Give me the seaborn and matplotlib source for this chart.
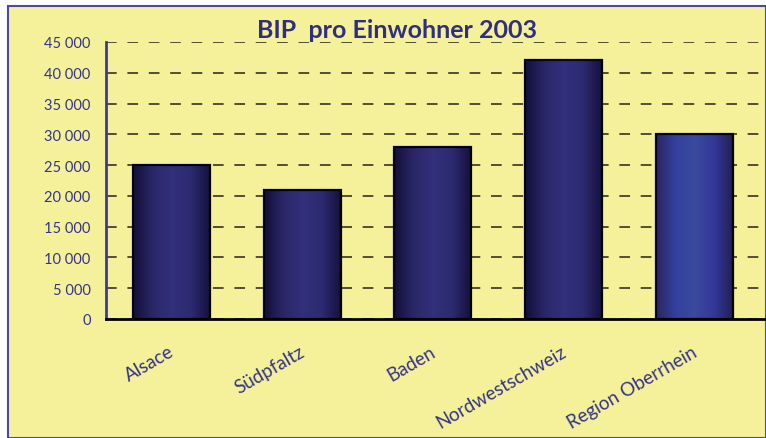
import matplotlib
matplotlib.use("Agg")
import matplotlib.pyplot as plt
from matplotlib.patches import Rectangle
from matplotlib.colors import LinearSegmentedColormap
from matplotlib.ticker import FuncFormatter, FixedLocator
from matplotlib.transforms import ScaledTranslation
import numpy as np
import seaborn as sns

regions = ["Alsace", "Südpfaltz", "Baden", "Nordwestschweiz", "Region Oberrhein"]
bip = [25000, 21000, 28000, 42000, 30000]
yticks = list(range(0, 45001, 5000))

sns.set_style("white")
plt.rcParams["font.family"] = ["Lato", "DejaVu Sans"]

text_col = "#34348a"
bg_col = "#f5f09a"

fig = plt.figure(figsize=(7.66, 4.39), dpi=100)
fig.patch.set_facecolor("white")
fig.patches.append(Rectangle((8 / 766, 0), 1 - 8 / 766, 1 - 7 / 439,
                             transform=fig.transFigure, facecolor=bg_col,
                             edgecolor="#4a4aa0", linewidth=1.5, zorder=-5))

ax = fig.add_axes([106 / 766, 119 / 439, 659 / 766, 277 / 439])
ax.set_facecolor("none")

sns.barplot(x=regions, y=bip, color="#2e2b78", edgecolor="black",
            linewidth=1.6, width=0.59, ax=ax, zorder=3)

# gradient fill: dark at the edges, blue in the middle
dark = LinearSegmentedColormap.from_list(
    "bar", ["#120f38", "#2a2767", "#33307c", "#2c2a70", "#140f3a"])
light = LinearSegmentedColormap.from_list(
    "bar2", ["#2a2660", "#3440a0", "#3a4a9c", "#33379a", "#221d52"])
grad = np.linspace(0, 1, 256).reshape(1, -1)
for i, p in enumerate(ax.patches):
    x0, y0 = p.get_x(), p.get_y()
    w, h = p.get_width(), p.get_height()
    cmap = light if i == len(regions) - 1 else dark
    ax.imshow(grad, extent=[x0, x0 + w, y0, y0 + h], aspect="auto",
              cmap=cmap, zorder=2.5, interpolation="bicubic")
    p.set_facecolor("none")

ax.set_xlim(-0.5, 4.54)
ax.set_ylim(0, 45000)
ax.set_yticks(yticks)
ax.yaxis.set_major_formatter(FuncFormatter(lambda v, _: f"{int(v):,}".replace(",", " ")))

ax.grid(axis="y", color="black", linestyle=(0, (7, 7)), linewidth=1.1, alpha=0.85)
ax.set_axisbelow(True)

for s in ["top", "right"]:
    ax.spines[s].set_visible(False)
ax.spines["left"].set_color("#3b3b9a")
ax.spines["left"].set_linewidth(2)
ax.spines["bottom"].set_color("black")
ax.spines["bottom"].set_linewidth(2)
ax.spines["bottom"].set_zorder(4)

ax.tick_params(axis="y", direction="out", length=7, width=2, color="#3b3b9a",
               labelsize=10.5, labelcolor=text_col, pad=4)
ax.tick_params(axis="x", which="major", length=0, labelsize=13.5,
               labelcolor=text_col, pad=17)
ax.xaxis.set_minor_locator(FixedLocator([-0.5, 0.5, 1.5, 2.5, 3.5, 4.5]))
ax.tick_params(axis="x", which="minor", direction="out", length=7, width=2, color="black")

# rotated labels, right end sitting near the bar centre
for lab in ax.get_xticklabels():
    lab.set_rotation(30)
    lab.set_ha("right")
    lab.set_rotation_mode("anchor")
    lab.set_transform(lab.get_transform() + ScaledTranslation(-0.03, 0, fig.dpi_scale_trans))

ax.set_xlabel("")
ax.set_ylabel("")
fig.text(397 / 766, 1 - 31 / 439, "BIP  pro Einwohner 2003", ha="center", va="center",
         fontsize=18, fontweight="bold", color="#2f2f80")

fig.savefig("out.png", dpi=100)
